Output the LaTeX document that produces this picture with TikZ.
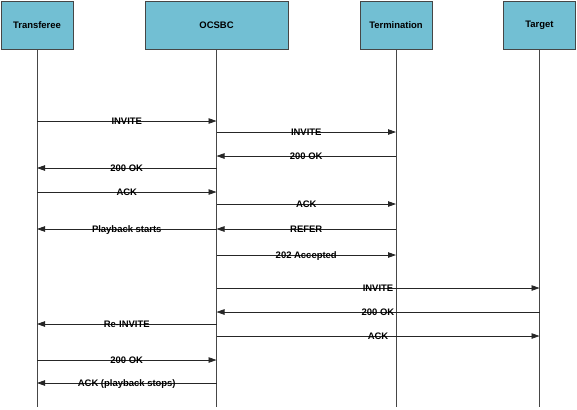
\documentclass[tikz,border=0pt]{standalone}
\usepackage{fontspec}
\setmainfont{Liberation Sans}
\usetikzlibrary{arrows.meta}
\definecolor{boxblue}{RGB}{114,191,211}
\definecolor{linegray}{RGB}{70,70,70}
\begin{document}
\begin{tikzpicture}[x=1bp,y=-1bp,
    actor/.style={draw=linegray,fill=boxblue,minimum height=48bp,inner sep=0pt,
      font=\fontsize{9.5}{11}\selectfont\bfseries},
    msg/.style={-{Triangle[length=8bp,width=5.5bp]},line width=0.8bp,draw=black!85},
    lbl/.style={font=\fontsize{9.5}{11}\selectfont\bfseries,inner sep=0pt,
      text height=6.8bp,text depth=0pt}]
  \useasboundingbox (0,0) rectangle (577,409);
  \node[actor,minimum width=72bp] (tfr) at (37,25) {Transferee};
  \node[actor,minimum width=143bp] (sbc) at (216.5,25) {OCSBC};
  \node[actor,minimum width=72bp] (trm) at (396,25) {Termination};
  \node[actor,minimum width=72bp] (tgt) at (539.5,25) {Target};
  % lifelines
  \foreach \n in {tfr,sbc,trm,tgt}
    \draw[linegray,line width=0.8bp] (\n.south) -- (\n |- 0,407);
  % call set up
  \draw[msg] (tfr |- 0,121) -- node[lbl] {INVITE} (sbc |- 0,121);
  \draw[msg] (sbc |- 0,132) -- node[lbl] {INVITE} (trm |- 0,132);
  \draw[msg] (trm |- 0,156) -- node[lbl] {200 OK} (sbc |- 0,156);
  \draw[msg] (sbc |- 0,168) -- node[lbl] {200 OK} (tfr |- 0,168);
  \draw[msg] (tfr |- 0,192) -- node[lbl] {ACK} (sbc |- 0,192);
  \draw[msg] (sbc |- 0,204) -- node[lbl] {ACK} (trm |- 0,204);
  % refer
  \draw[msg] (trm |- 0,229) -- node[lbl] {REFER} (sbc |- 0,229);
  \draw[msg] (sbc |- 0,229) -- node[lbl] {Playback starts} (tfr |- 0,229);
  \draw[msg] (sbc |- 0,255) -- node[lbl] {202 Accepted} (trm |- 0,255);
  % transfer to target
  \draw[msg] (sbc |- 0,288) -- node[lbl] {INVITE} (tgt |- 0,288);
  \draw[msg] (tgt |- 0,312) -- node[lbl] {200 OK} (sbc |- 0,312);
  \draw[msg] (sbc |- 0,324) -- node[lbl] {Re-INVITE} (tfr |- 0,324);
  \draw[msg] (sbc |- 0,336) -- node[lbl] {ACK} (tgt |- 0,336);
  \draw[msg] (tfr |- 0,360) -- node[lbl] {200 OK} (sbc |- 0,360);
  \draw[msg] (sbc |- 0,383) -- node[lbl] {ACK (playback stops)} (tfr |- 0,383);
\end{tikzpicture}
\end{document}
